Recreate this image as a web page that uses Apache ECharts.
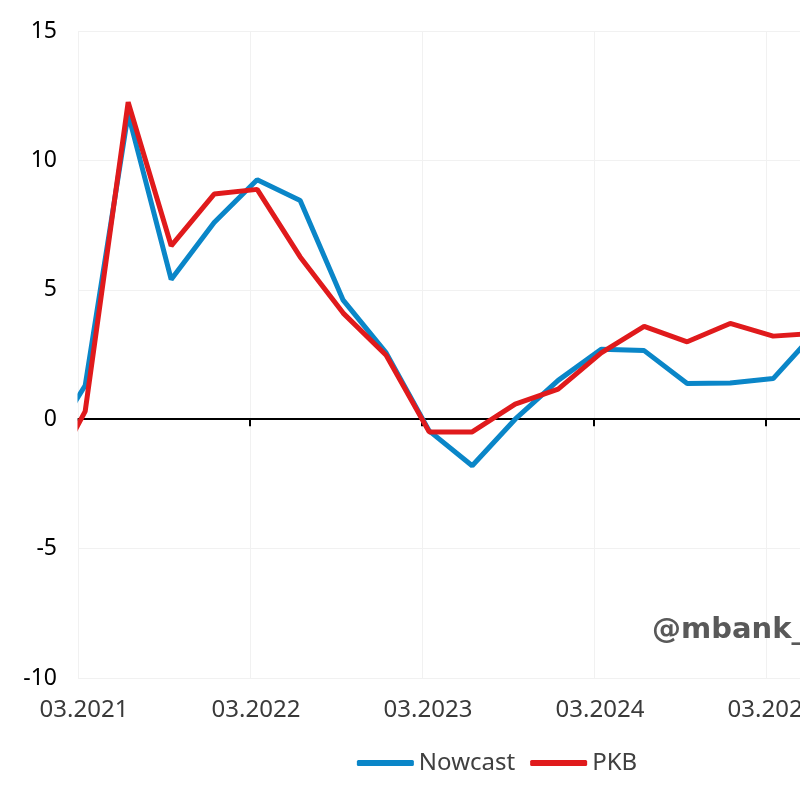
<!DOCTYPE html>
<html>
<head>
<meta charset="utf-8">
<script src="https://cdn.jsdelivr.net/npm/echarts@6/dist/echarts.min.js"></script>
<style>
  html, body { margin: 0; padding: 0; overflow: hidden; background: #fff; width: 800px; height: 800px; }
  #chart { width: 994px; height: 800px; }
</style>
</head>
<body>
<div id="chart"></div>
<script>
// Quarterly observations (year-month of quarter end)
const quarters = ['2020-12','2021-03','2021-06','2021-09','2021-12','2022-03','2022-06','2022-09','2022-12',
                  '2023-03','2023-06','2023-09','2023-12','2024-03','2024-06','2024-09','2024-12','2025-03','2025-06'];
const nowcast = [-1.4, 1.3, 11.8, 5.4, 7.6, 9.25, 8.45, 4.6, 2.56, -0.45, -1.8, 0.0, 1.5, 2.7, 2.65, 1.38, 1.4, 1.57, 3.4];
const pkb     = [-2.8, 0.3, 12.25, 6.7, 8.7, 8.88, 6.27, 4.1, 2.47, -0.49, -0.49, 0.58, 1.16, 2.56, 3.59, 2.99, 3.7, 3.21, 3.32];
const xTickLabels = ['03.2021','03.2022','03.2023','03.2024','03.2025','03.2026'];
const yTicks = [-10, -5, 0, 5, 10, 15];
const seriesNames = ['Nowcast', 'PKB'];
const watermark = '@mbank_research';

// months since 03.2021 (mid-month)
function monthPos(s) {
  const [y, m] = s.split('-').map(Number);
  return (y - 2021) * 12 + (m - 3) + 0.5;
}
const xs = quarters.map(monthPos);
const nowData = xs.map((x, i) => [x, nowcast[i]]);
const pkbData = xs.map((x, i) => [x, pkb[i]]);

const FONT = '"Noto Sans", "Open Sans", sans-serif';
const chart = echarts.init(document.getElementById('chart'), null, { renderer: 'canvas' });
chart.setOption({
  animation: false,
  backgroundColor: '#fff',
  grid: { left: 78, top: 31, width: 860, height: 647, containLabel: false },
  xAxis: [
    {
      type: 'value', min: 0, max: 60, interval: 12, position: 'bottom',
      axisLine: { show: false, onZero: false },
      axisTick: { show: false },
      axisLabel: {
        color: '#3a3a3a', fontSize: 24, fontFamily: FONT, margin: 20,
        padding: [0, 0, 0, 12],
        formatter: v => xTickLabels[Math.round(v / 12)] || ''
      },
      splitLine: { show: true, lineStyle: { color: '#f1f1f1', width: 1 } }
    },
    {
      type: 'value', min: 0, max: 60, interval: 12, position: 'bottom',
      axisLine: { show: true, onZero: true, lineStyle: { color: '#000', width: 2 } },
      axisTick: { show: true, inside: false, length: 7, lineStyle: { color: '#000', width: 2 } },
      axisLabel: { show: false },
      splitLine: { show: false }
    }
  ],
  yAxis: {
    type: 'value', min: yTicks[0], max: yTicks[yTicks.length - 1], interval: 5,
    axisLine: { show: false }, axisTick: { show: false },
    axisLabel: { color: '#000', fontSize: 23, fontFamily: FONT, margin: 21 },
    splitLine: { show: true, lineStyle: { color: '#f1f1f1', width: 1 } }
  },
  legend: {
    left: 'center', top: 746,
    icon: 'roundRect', itemWidth: 57, itemHeight: 6, itemGap: 15,
    textStyle: { color: '#404040', fontSize: 24, fontFamily: FONT },
    data: seriesNames
  },
  graphic: [
    {
      type: 'rect', left: 58, top: 20, z: 100, silent: true,
      shape: { width: 19.5, height: 670 }, style: { fill: '#fff' }
    },
    {
      type: 'text', left: 652, top: 616, silent: true, z: 100,
      style: { text: watermark, font: 'bold 29px "DejaVu Sans", sans-serif', fill: '#595959' }
    }
  ],
  series: [
    { name: seriesNames[0], type: 'line', xAxisIndex: 0, data: nowData, showSymbol: false, clip: true,
      lineStyle: { color: '#0A86C8', width: 5 }, itemStyle: { color: '#0A86C8' } },
    { name: seriesNames[1], type: 'line', xAxisIndex: 0, data: pkbData, showSymbol: false, clip: true,
      lineStyle: { color: '#E01A1C', width: 5 }, itemStyle: { color: '#E01A1C' } }
  ]
});
</script>
</body>
</html>
